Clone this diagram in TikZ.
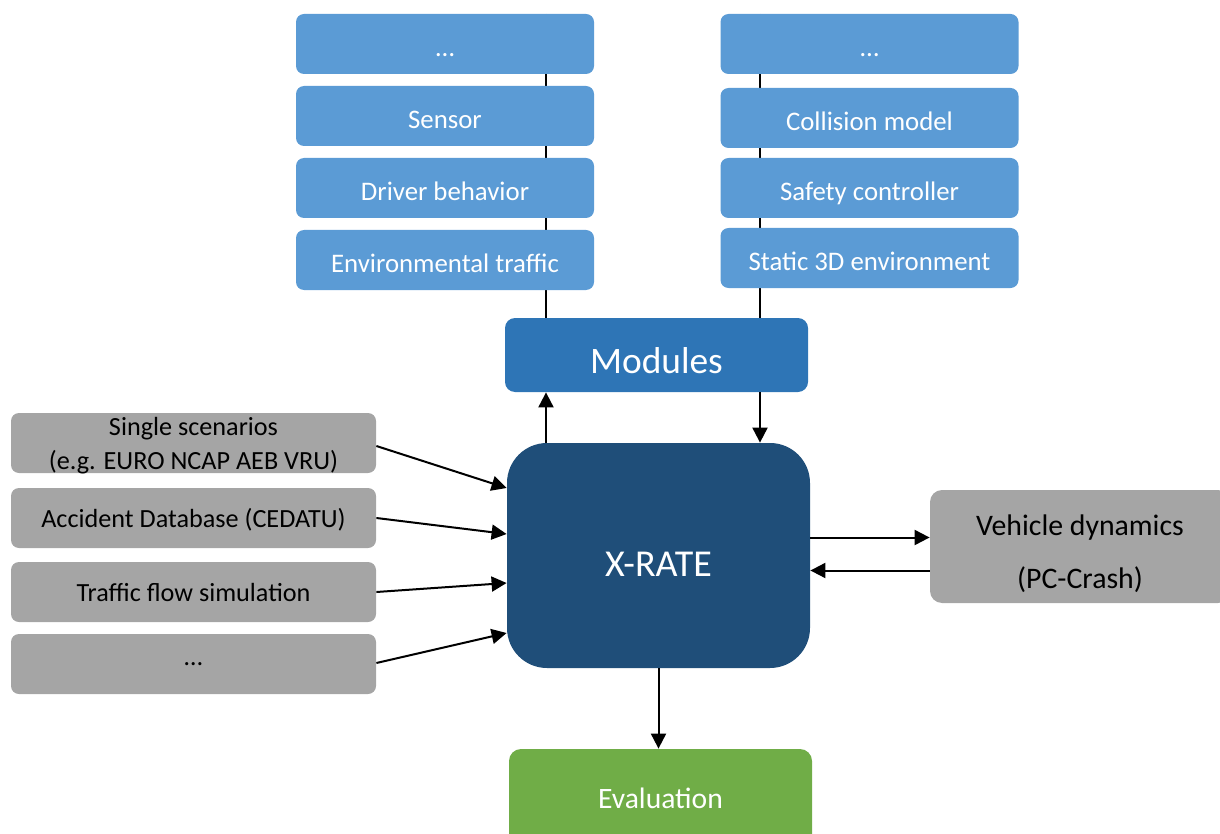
\documentclass[tikz,border=0pt]{standalone}
\usepackage{fontspec}
\setmainfont{Carlito}
\usepackage{tikz}
\usetikzlibrary{arrows.meta, backgrounds, calc}

\definecolor{modhell}{HTML}{5B9BD5}
\definecolor{modmittel}{HTML}{2E75B6}
\definecolor{kerndunkel}{HTML}{1F4E79}
\definecolor{grau}{HTML}{A5A5A5}
\definecolor{gruen}{HTML}{70AD47}

\begin{document}
\begin{tikzpicture}[
    x=0.5pt, y=-0.5pt,
    kasten/.style={rectangle, rounded corners=4pt, inner sep=0pt, align=center, text depth=0pt},
    modul/.style={kasten, fill=modhell, text=white, minimum width=149pt, minimum height=30pt, text height=12.6pt, font=\fontsize{13.4}{15}\selectfont},
    quelle/.style={kasten, fill=grau, text=black, minimum width=182.5pt, minimum height=30pt, font=\fontsize{13.1}{17}\selectfont},
    pfeil/.style={-{Triangle[length=7.5pt, width=7.5pt]}, line width=1pt},
  ]

  \useasboundingbox (0,0) rectangle (1220,834);

  % Module links und rechts
  \node[modul] (ml1) at (445,44) {…};
  \node[modul] (ml2) at (445,116) {Sensor};
  \node[modul] (ml3) at (445,188) {Driver behavior};
  \node[modul] (ml4) at (445,260) {Environmental traffic};

  \node[modul] (mr1) at (869.5,44) {…};
  \node[modul] (mr2) at (869.5,118) {Collision model};
  \node[modul] (mr3) at (869.5,188) {Safety controller};
  \node[modul] (mr4) at (869.5,258) {Static 3D environment};

  \node[kasten, fill=modmittel, text=white, minimum width=151.5pt, minimum height=37pt, rounded corners=5pt, text height=18.5pt, font=\fontsize{18.7}{20}\selectfont] (mods) at (656.5,355) {Modules};

  \node[kasten, fill=kerndunkel, text=white, minimum width=151.5pt, minimum height=112.5pt, rounded corners=20pt, text height=21pt, font=\fontsize{19}{21}\selectfont] (xrate) at (658.5,555.5) {X-RATE};

  % Eingaben
  \node[quelle] (q1) at (193.5,443) {Single scenarios\\(e.g. EURO NCAP AEB VRU)};
  \node[quelle] (q2) at (193.5,518) {Accident Database (CEDATU)};
  \node[quelle] (q3) at (193.5,592) {Traffic flow simulation};
  \node[quelle] (q4) at (193.5,664) {…};

  \node[kasten, fill=grau, text=black, minimum width=150pt, minimum height=56.5pt, rounded corners=6pt, text height=42pt, font=\fontsize{14.9}{26.5}\selectfont] (fahrdyn) at (1080,546.5) {Vehicle dynamics\\(PC-Crash)};

  \node[kasten, fill=gruen, text=white, minimum width=151.5pt, minimum height=49pt, rounded corners=6pt, font=\fontsize{14.8}{16}\selectfont] (eval) at (660.5,798) {Evaluation};

  % Sammelleitungen hinter den Modulen
  \coordinate (lo) at (546,14);
  \coordinate (ro) at (760,14);
  \begin{scope}[on background layer]
    \draw[line width=1pt] (lo) -- (lo |- mods.north);
    \draw[line width=1pt] (ro) -- (ro |- mods.north);
  \end{scope}

  \draw[pfeil] (xrate.north -| lo) -- (mods.south -| lo);
  \draw[pfeil] (mods.south -| ro) -- (xrate.north -| ro);

  \draw[pfeil] ([yshift=-1.5pt]q1.east) -- ([yshift=33.75pt]xrate.west);
  \draw[pfeil] (q2.east) -- ([yshift=10.75pt]xrate.west);
  \draw[pfeil] (q3.east) -- ([yshift=-13.75pt]xrate.west);
  \draw[pfeil] ([yshift=0.5pt]q4.east) -- ([yshift=-38.75pt]xrate.west);

  \draw[pfeil] ([yshift=9pt]xrate.east) -- ([yshift=9pt]xrate.east -| fahrdyn.west);
  \draw[pfeil] ([yshift=-12pt]fahrdyn.west) -- ([yshift=-12pt]fahrdyn.west -| xrate.east);

  \draw[pfeil] (xrate.south) -- (xrate.south |- eval.north);
\end{tikzpicture}
\end{document}
